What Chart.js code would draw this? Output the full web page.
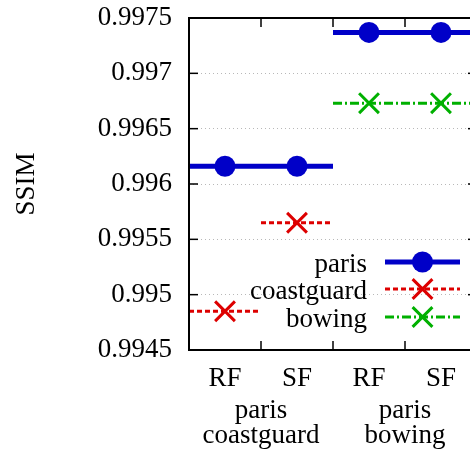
<!DOCTYPE html>
<html>
<head>
<meta charset="utf-8">
<title>SSIM</title>
<script src="https://cdn.jsdelivr.net/npm/chart.js@4/dist/chart.umd.min.js"></script>
<style>
  html, body { margin: 0; padding: 0; background: #fff; }
  #wrap { width: 470px; height: 451px; overflow: hidden; position: relative; }
  #ssimChart { position: absolute; left: 0; top: 0; }
</style>
</head>
<body>
<div id="wrap"><canvas id="ssimChart" width="500" height="451"></canvas></div>
<script>
// categories along x, grouped in pairs under the sequence names
const categories = ["RF", "SF", "RF", "SF"];
const groupLabels = [["paris", "coastguard"], ["paris", "bowing"]];
const yTicks = [0.9945, 0.995, 0.9955, 0.996, 0.9965, 0.997, 0.9975];

// SSIM per category (null = sequence not in that pair)
const paris = [0.99616, 0.99616, 0.99737, 0.99737];
const coastguard = [0.99485, 0.99565, null, null];
const bowing = [null, null, 0.99673, 0.99673];

const FONT = "'Liberation Serif', 'Times New Roman', serif";
const CROSS_R = 14;

// each value becomes a flat segment across its category with the marker in the middle
function stepData(values) {
  const pts = [];
  values.forEach((v, i) => {
    if (v === null) return;
    const prev = i > 0 ? values[i - 1] : null;
    const next = i < values.length - 1 ? values[i + 1] : null;
    if (prev !== v) pts.push({ x: i, y: v });
    pts.push({ x: i + 0.5, y: v });
    if (next !== v) pts.push({ x: i + 1, y: v }, { x: i + 1, y: null });
  });
  return pts;
}

const isMarker = ctx => ctx.raw && ctx.raw.x % 1 === 0.5;

const datasets = [
  {
    label: "paris",
    data: stepData(paris),
    borderColor: "#0000c8",
    backgroundColor: "#0000c8",
    borderWidth: 5,
    pointStyle: "circle",
    pointRadius: ctx => isMarker(ctx) ? 10.5 : 0,
    pointBorderWidth: 0
  },
  {
    label: "coastguard",
    data: stepData(coastguard),
    borderColor: "#dd0000",
    backgroundColor: "#dd0000",
    borderWidth: 3,
    borderDash: [5, 3],
    pointStyle: "crossRot",
    pointRadius: ctx => isMarker(ctx) ? CROSS_R : 0,
    pointBorderWidth: 3
  },
  {
    label: "bowing",
    data: stepData(bowing),
    borderColor: "#00b000",
    backgroundColor: "#00b000",
    borderWidth: 3,
    borderDash: [9, 3, 2, 3],
    pointStyle: "crossRot",
    pointRadius: ctx => isMarker(ctx) ? CROSS_R : 0,
    pointBorderWidth: 3
  }
];

// black box with inward tick marks, gnuplot style
const framePlugin = {
  id: "frame",
  afterDraw(chart) {
    const { ctx, chartArea: a, scales } = chart;
    const line = (x1, y1, x2, y2) => {
      ctx.beginPath(); ctx.moveTo(x1, y1); ctx.lineTo(x2, y2); ctx.stroke();
    };
    ctx.save();
    ctx.strokeStyle = "#000";
    ctx.lineWidth = 1.5;
    yTicks.forEach(v => {
      const y = scales.y.getPixelForValue(v);
      line(a.left, y, a.left + 9, y);
      line(a.right - 9, y, a.right, y);
    });
    for (let i = 1; i < categories.length; i++) {
      const x = scales.x.getPixelForValue(i);
      line(x, a.bottom, x, a.bottom - 9);
      line(x, a.top, x, a.top + 9);
    }
    ctx.lineWidth = 2;
    ctx.strokeRect(a.left, a.top, a.right - a.left, a.bottom - a.top);
    ctx.restore();
  }
};

// key in the lower right: name, then line sample with marker
const keyPlugin = {
  id: "key",
  afterDraw(chart) {
    const { ctx, chartArea: a } = chart;
    const rowY = [a.bottom - 88, a.bottom - 61, a.bottom - 33];
    const textX = a.right - 110, x1 = a.right - 92, x2 = a.right - 17;
    const mx = (x1 + x2) / 2;
    ctx.save();
    chart.data.datasets.forEach((ds, i) => {
      const y = rowY[i];
      ctx.fillStyle = "#000";
      ctx.font = "27px " + FONT;
      ctx.textAlign = "right";
      ctx.textBaseline = "alphabetic";
      ctx.fillText(ds.label, textX, y + 10);

      ctx.strokeStyle = ds.borderColor;
      ctx.lineWidth = ds.borderWidth;
      ctx.setLineDash(ds.borderDash || []);
      ctx.beginPath(); ctx.moveTo(x1, y); ctx.lineTo(x2, y); ctx.stroke();
      ctx.setLineDash([]);

      if (ds.pointStyle === "circle") {
        ctx.fillStyle = ds.backgroundColor;
        ctx.beginPath(); ctx.arc(mx, y, 10.5, 0, Math.PI * 2); ctx.fill();
      } else {
        const r = CROSS_R * Math.SQRT1_2;
        ctx.lineWidth = 3;
        ctx.beginPath();
        ctx.moveTo(mx - r, y - r); ctx.lineTo(mx + r, y + r);
        ctx.moveTo(mx - r, y + r); ctx.lineTo(mx + r, y - r);
        ctx.stroke();
      }
    });
    ctx.restore();
  }
};

new Chart(document.getElementById("ssimChart"), {
  type: "line",
  data: { datasets },
  plugins: [framePlugin, keyPlugin],
  options: {
    responsive: false,
    animation: false,
    events: [],
    layout: { padding: { top: 18, right: 23, left: 0, bottom: 0 } },
    plugins: { legend: { display: false }, tooltip: { enabled: false } },
    elements: { line: { tension: 0 } },
    scales: {
      x: {
        type: "linear",
        min: 0,
        max: categories.length,
        afterBuildTicks: s => { s.ticks = categories.map((c, i) => ({ value: i + 0.5 })); },
        afterFit: s => { s.height = 38; },
        ticks: {
          callback: (v, i) => categories[i],
          autoSkip: false,
          maxRotation: 0,
          minRotation: 0,
          padding: 5,
          color: "#000",
          font: { family: FONT, size: 27 }
        },
        grid: { display: false },
        border: { display: false }
      },
      x2: {
        type: "linear",
        position: "bottom",
        min: 0,
        max: categories.length,
        afterBuildTicks: s => { s.ticks = groupLabels.map((g, i) => ({ value: 2 * i + 1 })); },
        afterFit: s => { s.height = 63; },
        ticks: {
          callback: (v, i) => groupLabels[i],
          autoSkip: false,
          maxRotation: 0,
          minRotation: 0,
          padding: 2,
          color: "#000",
          font: { family: FONT, size: 27, lineHeight: 0.93 }
        },
        grid: { display: false },
        border: { display: false }
      },
      y: {
        min: 0.9945,
        max: 0.9975,
        afterBuildTicks: s => { s.ticks = yTicks.map(v => ({ value: v })); },
        afterFit: s => {
          s.width = 189;
          // labels may overhang the frame; keep the frame where the layout padding puts it
          s.paddingTop = 0;
          s.paddingBottom = 0;
        },
        ticks: {
          callback: (v, i) => String(yTicks[i]),
          padding: 17,
          color: "#000",
          font: { family: FONT, size: 27 }
        },
        title: {
          display: true,
          text: "SSIM",
          color: "#000",
          padding: { top: 11, bottom: 0 },
          font: { family: FONT, size: 27 }
        },
        grid: { color: "#b8b8b8", lineWidth: 1, drawTicks: false },
        border: { display: false, dash: [1, 3] }
      }
    }
  }
});
</script>
</body>
</html>
